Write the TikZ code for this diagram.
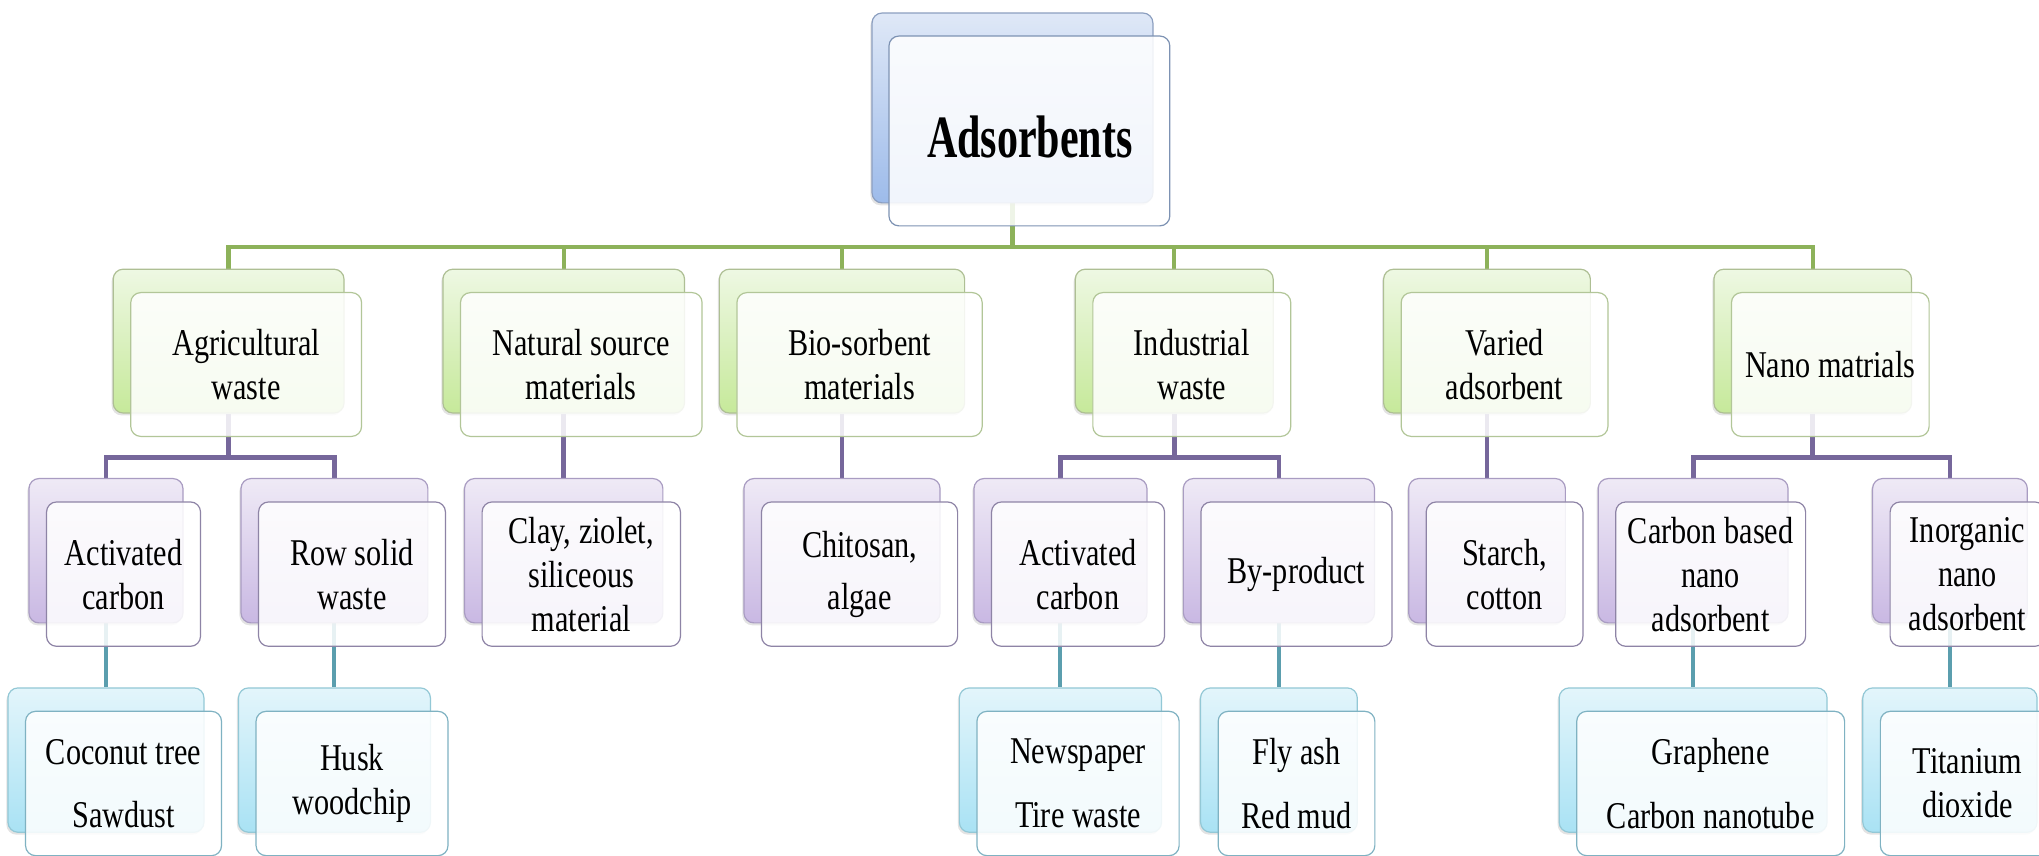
\documentclass[tikz,border=0pt]{standalone}
\usepackage{fontspec}
\setmainfont[FakeStretch=0.8]{Liberation Serif}
\newfontfamily\titlefont[FakeStretch=0.7]{Liberation Serif}
\usetikzlibrary{backgrounds,shadows}
\definecolor{blueTop}{HTML}{DFE8F7}
\definecolor{blueBot}{HTML}{9DBBEA}
\definecolor{blueEdge}{HTML}{8C9FC0}
\definecolor{blueF}{HTML}{7D92B3}
\definecolor{greenTop}{HTML}{EEF8E3}
\definecolor{greenBot}{HTML}{C6E99A}
\definecolor{greenEdge}{HTML}{AEBF94}
\definecolor{greenF}{HTML}{B2C698}
\definecolor{purpTop}{HTML}{EFEAF6}
\definecolor{purpBot}{HTML}{C9B8E3}
\definecolor{purpEdge}{HTML}{A99CC2}
\definecolor{purpF}{HTML}{8E84A6}
\definecolor{cyanTop}{HTML}{E3F5FB}
\definecolor{cyanBot}{HTML}{A9E2F4}
\definecolor{cyanEdge}{HTML}{93C8D6}
\definecolor{cyanF}{HTML}{7FB2C2}
\definecolor{gline}{HTML}{8DB25A}
\definecolor{pline}{HTML}{76679B}
\definecolor{tline}{HTML}{5B9EAE}
\tikzset{
  boxbase/.style={rectangle, rounded corners=5pt, inner sep=0pt, line width=0.6pt},
  backbox/.style={boxbase, drop shadow={shadow xshift=-0.8pt, shadow yshift=-1.2pt, opacity=0.22}},
  bluB/.style={backbox, draw=blueEdge, top color=blueTop, bottom color=blueBot},
  greB/.style={backbox, draw=greenEdge, top color=greenTop, bottom color=greenBot},
  purB/.style={backbox, draw=purpEdge, top color=purpTop, bottom color=purpBot},
  cyaB/.style={backbox, draw=cyanEdge, top color=cyanTop, bottom color=cyanBot},
  frontbox/.style={boxbase, fill=white, fill opacity=0.86, text opacity=1, align=center,
    font=\fontsize{18.9}{22}\selectfont},
  bluF/.style={frontbox, draw=blueF},
  greF/.style={frontbox, draw=greenF},
  purF/.style={frontbox, draw=purpF},
  cyaF/.style={frontbox, draw=cyanF},
  gconn/.style={draw=gline, line width=2.2pt},
  pconn/.style={draw=pline, line width=2.4pt},
  tconn/.style={draw=tline, line width=2pt},
  titletext/.style={font=\titlefont\bfseries\fontsize{30}{34}\selectfont, inner sep=0pt}
}
% name, cx, cy, width, height, kind, text
\newcommand\dbl[7]{%
  \node[#6B, minimum width={#4*0.65pt}, minimum height={#5*0.65pt}] (#1B) at (#2,#3) {};
  \node[#6F, minimum width={#4*0.65pt}, minimum height={#5*0.65pt}] (#1) at (#2+13.5,#3+18) {#7};
}
\begin{document}
\begin{tikzpicture}[x=0.65pt, y=-0.65pt]
\useasboundingbox (0,0) rectangle (1568,658);

% root
\node[bluB, minimum width={216*0.65pt}, minimum height={146*0.65pt}] (rootB) at (778.6,83) {};
\node[bluF, minimum width={216*0.65pt}, minimum height={146*0.65pt}] (root) at (791.6,100.7) {};
\node[titletext, anchor=base] (rootlabel) at (792,121) {Adsorbents};

% level 1
\dbl{ag}{175.8}{262.3}{177.5}{110.6}{gre}{Agricultural\\waste}
\dbl{ns}{433.5}{262.3}{185.8}{110.6}{gre}{Natural source\\materials}
\dbl{bio}{647.5}{262.3}{188.6}{110.6}{gre}{Bio-sorbent\\materials}
\dbl{ind}{903}{262.3}{152.2}{110.6}{gre}{Industrial\\waste}
\dbl{var}{1143.5}{262.3}{159}{110.6}{gre}{Varied\\adsorbent}
\dbl{nano}{1394}{262.3}{152}{110.6}{gre}{Nano matrials}

% level 2
\dbl{acA}{81.5}{423.5}{118.4}{111}{pur}{Activated\\carbon}
\dbl{row}{257.2}{423.5}{143.7}{111}{pur}{Row solid\\waste}
\dbl{clay}{433.5}{423.5}{152.5}{111}{pur}{Clay, ziolet,\\siliceous\\material}
\dbl{chi}{647.5}{423.5}{150.8}{111}{pur}{Chitosan,\\[4pt]algae}
\dbl{acB}{815.5}{423.5}{133}{111}{pur}{Activated\\carbon}
\dbl{byp}{983.5}{423.5}{147}{111}{pur}{By-product}
\dbl{sta}{1143.5}{423.5}{120.5}{111}{pur}{Starch,\\cotton}
\dbl{cbn}{1302}{423.5}{146}{111}{pur}{Carbon based\\nano\\adsorbent}
\dbl{ino}{1499.5}{423.5}{119}{111}{pur}{Inorganic\\nano\\adsorbent}

% level 3
\dbl{coc}{81.5}{584.5}{150.7}{111}{cya}{Coconut tree\\[9.7pt]Sawdust}
\dbl{hus}{257.2}{584.5}{147.6}{111}{cya}{Husk\\woodchip}
\dbl{news}{815.5}{584.5}{155.5}{111}{cya}{Newspaper\\[9.7pt]Tire waste}
\dbl{fly}{983.5}{584.5}{120.5}{111}{cya}{Fly ash\\[9.7pt]Red mud}
\dbl{gra}{1302}{584.5}{206}{111}{cya}{Graphene\\[9.7pt]Carbon nanotube}
\dbl{tit}{1499.5}{584.5}{134}{111}{cya}{Titanium\\dioxide}

\coordinate (gbus) at (0,190);
\coordinate (pbus) at (0,352);

\begin{scope}[on background layer]
  \fill[white] (0,0) rectangle (1568,658);
  \foreach \c in {ag,ns,bio,ind,var,nano}
    \draw[gconn] (rootB.south) -- (rootB.south |- gbus) -| (\c B.north);
  \draw[pconn] (agB.south) -- (agB.south |- pbus) -| (acAB.north);
  \draw[pconn] (agB.south) -- (agB.south |- pbus) -| (rowB.north);
  \draw[pconn] (nsB.south) -- (clayB.north);
  \draw[pconn] (bioB.south) -- (chiB.north);
  \draw[pconn] (indB.south) -- (indB.south |- pbus) -| (acBB.north);
  \draw[pconn] (indB.south) -- (indB.south |- pbus) -| (bypB.north);
  \draw[pconn] (varB.south) -- (staB.north);
  \draw[pconn] (nanoB.south) -- (nanoB.south |- pbus) -| (cbnB.north);
  \draw[pconn] (nanoB.south) -- (nanoB.south |- pbus) -| (inoB.north);
  \draw[tconn] (acAB.south) -- (cocB.north);
  \draw[tconn] (rowB.south) -- (husB.north);
  \draw[tconn] (acBB.south) -- (newsB.north);
  \draw[tconn] (bypB.south) -- (flyB.north);
  \draw[tconn] (cbnB.south) -- (graB.north);
  \draw[tconn] (inoB.south) -- (titB.north);
\end{scope}
\end{tikzpicture}
\end{document}
